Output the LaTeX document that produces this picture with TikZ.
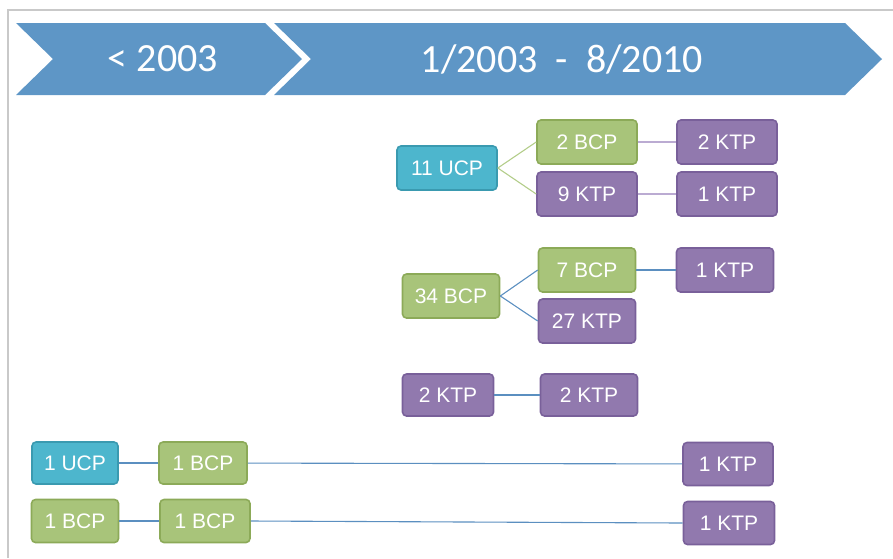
\documentclass[tikz,border=0pt]{standalone}
\usepackage{fontspec}
\setmainfont{Liberation Sans}
\newfontfamily\headfont{Carlito}
\usetikzlibrary{positioning}

\definecolor{framegray}{HTML}{C9C9C9}
\definecolor{chevblue}{HTML}{5E96C6}
\definecolor{ucpfill}{HTML}{4DB6CD}
\definecolor{ucpline}{HTML}{3A9AB0}
\definecolor{bcpfill}{HTML}{A8C47A}
\definecolor{bcpline}{HTML}{8CAA58}
\definecolor{ktpfill}{HTML}{9179AE}
\definecolor{ktpline}{HTML}{79609A}
\definecolor{linkgreen}{HTML}{B3CD8A}
\definecolor{linkpurple}{HTML}{BBABD2}
\definecolor{linkblue}{HTML}{5B8FC0}

\tikzset{
  box/.style={draw, rounded corners=4pt, line width=1.6pt, text=white,
    font=\fontsize{21}{24}\selectfont, minimum height=44pt, inner sep=0pt},
  ucp/.style={box, fill=ucpfill, draw=ucpline},
  bcp/.style={box, fill=bcpfill, draw=bcpline},
  ktp/.style={box, fill=ktpfill, draw=ktpline},
  head/.style={text=white, font=\headfont\fontsize{40}{44}\selectfont},
  link/.style={line width=1.1pt}
}

\begin{document}
\begin{tikzpicture}[x=1pt, y=-1pt]
    \useasboundingbox (0,0) rectangle (893,558);

    % Frame
    \draw [framegray, line width=2pt] (8,558) -- (8,10) -- (893,10);

    % Header chevrons
    \fill [chevblue] (16,23) -- (265,23) -- (302,59) -- (265,95) -- (16,95) -- (53,59) -- cycle;
    \fill [chevblue] (274,23) -- (845,23) -- (882,59) -- (845,95) -- (274,95) -- (311,59) -- cycle;
    \node (early) [head] at (163,59) {< 2003};
    \node (late) [head] at (562,59) {1/2003\ \ -\ \ 8/2010};

    % First group
    \node (ucpA) [ucp, minimum width=100pt] at (447,168) {11 UCP};
    \node (bcpA) [bcp, minimum width=100pt] at (587,142) {2 BCP};
    \node (ktpA) [ktp, minimum width=100pt] at (587,194) {9 KTP};
    \node (ktpB) [ktp, minimum width=100pt] at (727,142) {2 KTP};
    \node (ktpC) [ktp, minimum width=100pt] at (727,194) {1 KTP};
    \draw [link, linkgreen] (ucpA.east) -- (bcpA.west);
    \draw [link, linkgreen] (ucpA.east) -- (ktpA.west);
    \draw [link, linkpurple] (bcpA) -- (ktpB);
    \draw [link, linkpurple] (ktpA) -- (ktpC);

    % Second group
    \node (bcpB) [bcp, minimum width=97pt] at (451,296) {34 BCP};
    \node (bcpC) [bcp, minimum width=97pt] at (587,270) {7 BCP};
    \node (ktpD) [ktp, minimum width=97pt] at (587,321) {27 KTP};
    \node (ktpE) [ktp, minimum width=97pt] at (725,270) {1 KTP};
    \draw [link, linkblue] (bcpB.east) -- (bcpC.west);
    \draw [link, linkblue] (bcpB.east) -- (ktpD.west);
    \draw [link, linkblue] (bcpC) -- (ktpE);

    % Third group
    \node (ktpF) [ktp, minimum width=91pt, minimum height=42pt] at (448,395) {2 KTP};
    \node (ktpG) [ktp, minimum width=97pt, minimum height=42pt] at (589,395) {2 KTP};
    \draw [link, linkblue] (ktpF) -- (ktpG);

    % Before 2003
    \node (ucpB) [ucp, minimum width=86pt, minimum height=42pt] at (75,463) {1 UCP};
    \node (bcpD) [bcp, minimum width=88pt, minimum height=42pt] at (203,463) {1 BCP};
    \node (ktpH) [ktp, minimum width=90pt, minimum height=43pt] at (728,464) {1 KTP};
    \draw [link, linkblue] (ucpB) -- (bcpD);
    \draw [link, linkblue] (bcpD) -- (ktpH);

    \node (bcpE) [bcp, minimum width=87pt, minimum height=43pt] at (75,521) {1 BCP};
    \node (bcpF) [bcp, minimum width=90pt, minimum height=43pt] at (205,521) {1 BCP};
    \node (ktpI) [ktp, minimum width=91pt, minimum height=43pt] at (729,523) {1 KTP};
    \draw [link, linkblue] (bcpE) -- (bcpF);
    \draw [link, linkblue] (bcpF.east) -- (ktpI.west);

\end{tikzpicture}
\end{document}
